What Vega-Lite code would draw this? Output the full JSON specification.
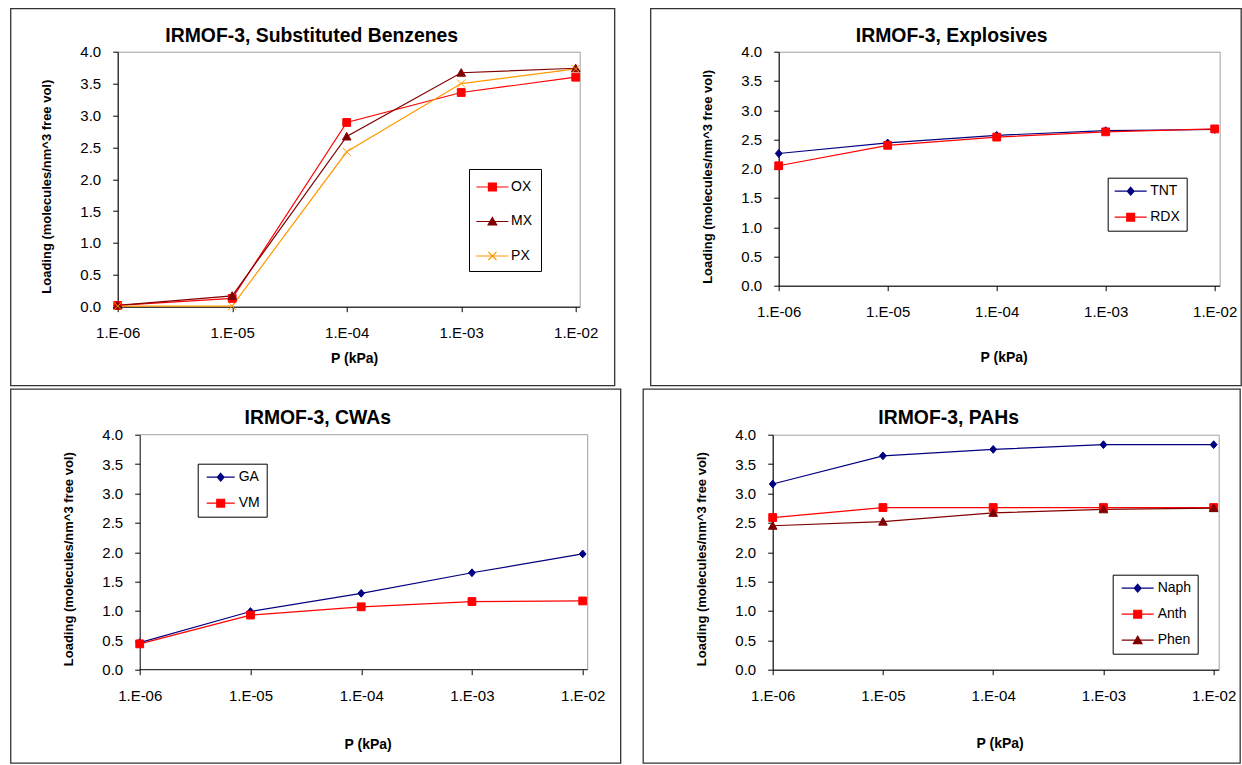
{
  "$schema": "https://vega.github.io/schema/vega-lite/v6.json",
  "padding": {"left": 8.7, "top": 6.7, "right": 0, "bottom": 0},
  "background": "white",
  "datasets": {
    "sb": [
      {"S": "OX", "P": 0.000001, "L": 0.02}, {"S": "OX", "P": 0.00001, "L": 0.13}, {"S": "OX", "P": 0.0001, "L": 2.89}, {"S": "OX", "P": 0.001, "L": 3.36}, {"S": "OX", "P": 0.01, "L": 3.60},
      {"S": "MX", "P": 0.000001, "L": 0.02}, {"S": "MX", "P": 0.00001, "L": 0.17}, {"S": "MX", "P": 0.0001, "L": 2.67}, {"S": "MX", "P": 0.001, "L": 3.67}, {"S": "MX", "P": 0.01, "L": 3.74},
      {"S": "PX", "P": 0.000001, "L": 0.01}, {"S": "PX", "P": 0.00001, "L": 0.01}, {"S": "PX", "P": 0.0001, "L": 2.43}, {"S": "PX", "P": 0.001, "L": 3.50}, {"S": "PX", "P": 0.01, "L": 3.73}
    ],
    "ex": [
      {"S": "TNT", "P": 0.000001, "L": 2.26}, {"S": "TNT", "P": 0.00001, "L": 2.44}, {"S": "TNT", "P": 0.0001, "L": 2.57}, {"S": "TNT", "P": 0.001, "L": 2.65}, {"S": "TNT", "P": 0.01, "L": 2.67},
      {"S": "RDX", "P": 0.000001, "L": 2.05}, {"S": "RDX", "P": 0.00001, "L": 2.40}, {"S": "RDX", "P": 0.0001, "L": 2.54}, {"S": "RDX", "P": 0.001, "L": 2.63}, {"S": "RDX", "P": 0.01, "L": 2.68}
    ],
    "cwa": [
      {"S": "GA", "P": 0.000001, "L": 0.46}, {"S": "GA", "P": 0.00001, "L": 0.99}, {"S": "GA", "P": 0.0001, "L": 1.30}, {"S": "GA", "P": 0.001, "L": 1.65}, {"S": "GA", "P": 0.01, "L": 1.97},
      {"S": "VM", "P": 0.000001, "L": 0.44}, {"S": "VM", "P": 0.00001, "L": 0.93}, {"S": "VM", "P": 0.0001, "L": 1.07}, {"S": "VM", "P": 0.001, "L": 1.16}, {"S": "VM", "P": 0.01, "L": 1.17}
    ],
    "pah": [
      {"S": "Naph", "P": 0.000001, "L": 3.16}, {"S": "Naph", "P": 0.00001, "L": 3.64}, {"S": "Naph", "P": 0.0001, "L": 3.75}, {"S": "Naph", "P": 0.001, "L": 3.83}, {"S": "Naph", "P": 0.01, "L": 3.83},
      {"S": "Anth", "P": 0.000001, "L": 2.59}, {"S": "Anth", "P": 0.00001, "L": 2.76}, {"S": "Anth", "P": 0.0001, "L": 2.76}, {"S": "Anth", "P": 0.001, "L": 2.76}, {"S": "Anth", "P": 0.01, "L": 2.76},
      {"S": "Phen", "P": 0.000001, "L": 2.45}, {"S": "Phen", "P": 0.00001, "L": 2.52}, {"S": "Phen", "P": 0.0001, "L": 2.67}, {"S": "Phen", "P": 0.001, "L": 2.73}, {"S": "Phen", "P": 0.01, "L": 2.75}
    ]
  },
  "spacing": 0,
  "resolve": {"scale": {"color": "independent", "fill": "independent", "shape": "independent"}},
  "vconcat": [
    {
      "spacing": 32,
      "resolve": {"scale": {"color": "independent", "fill": "independent", "shape": "independent"}},
      "hconcat": [
        {
          "width": 462, "height": 255,
          "title": {"text": "IRMOF-3, Substituted Benzenes", "frame": "group", "anchor": "middle", "dx": -37, "offset": -38},
          "resolve": {"scale": {"color": "independent", "fill": "independent", "shape": "independent"}},
          "layer": [
            {
              "data": {"values": [{}]},
              "mark": {"type": "rect", "filled": false, "color": "#333333", "strokeWidth": 1.3},
              "encoding": {
                "x": {"datum": 1.163e-7, "type": "quantitative", "scale": {"type": "log", "domain": [0.000001, 0.010837], "nice": false},
                      "axis": {"values": [0.000001, 0.00001, 0.0001, 0.001, 0.01], "labelExpr": "'1.E-0'+round(-log(datum.value)/LN10)", "title": "P (kPa)", "titlePadding": 11, "titleX": 236.5}},
                "x2": {"datum": 0.021904},
                "y": {"datum": 4.6745, "type": "quantitative", "scale": {"domain": [0, 4], "nice": false, "zero": false},
                      "axis": {"values": [0, 0.5, 1, 1.5, 2, 2.5, 3, 3.5, 4], "format": ".1f", "tickCount": 10, "labelOverlap": false, "title": "Loading (molecules/nm^3 free vol)", "titlePadding": 26, "titleY": 134.5}},
                "y2": {"datum": -1.23922}
              }
            },
            {
              "data": {"name": "sb"},
              "mark": {"type": "line", "strokeWidth": 1.2},
              "encoding": {
                "x": {"field": "P", "type": "quantitative", "scale": {"type": "log", "domain": [0.000001, 0.010837], "nice": false},
                      "axis": {"values": [0.000001, 0.00001, 0.0001, 0.001, 0.01], "labelExpr": "'1.E-0'+round(-log(datum.value)/LN10)", "title": "P (kPa)", "titlePadding": 11, "titleX": 236.5}},
                "y": {"field": "L", "type": "quantitative", "scale": {"domain": [0, 4], "nice": false, "zero": false},
                      "axis": {"values": [0, 0.5, 1, 1.5, 2, 2.5, 3, 3.5, 4], "format": ".1f", "tickCount": 10, "labelOverlap": false, "title": "Loading (molecules/nm^3 free vol)", "titlePadding": 26, "titleY": 134.5}},
                "color": {"field": "S", "type": "nominal", "scale": {"domain": ["OX", "MX", "PX"], "range": ["#FF0000", "#800000", "#FF9900"]}, "legend": null}
              }
            },
            {
              "data": {"name": "sb"},
              "mark": {"type": "point", "filled": false, "strokeWidth": 1, "size": 100, "opacity": 1},
              "encoding": {
                "x": {"field": "P", "type": "quantitative", "title": "P (kPa)"},
                "y": {"field": "L", "type": "quantitative", "title": "Loading (molecules/nm^3 free vol)"},
                "color": {"field": "S", "type": "nominal", "scale": {"domain": ["OX", "MX", "PX"], "range": ["#FF0000", "#800000", "#FF9900"]}, "legend": null},
                "fill": {"field": "S", "type": "nominal", "scale": {"domain": ["OX", "MX", "PX"], "range": ["#FF0000", "#800000", "#FF9900"]}, "legend": null},
                "shape": {"field": "S", "type": "nominal", "scale": {"domain": ["OX", "MX", "PX"], "range": ["M-0.78,-0.78H0.78V0.78H-0.78Z", "M0,-0.82L0.86,0.7H-0.86Z", "M-0.8,-0.8L0.8,0.8M0.8,-0.8L-0.8,0.8"]}, "legend": null}
              }
            },
            {
              "data": {"name": "sb"},
              "transform": [{"filter": "false"}],
              "mark": {"type": "point", "filled": false, "strokeWidth": 1.2, "opacity": 1},
              "encoding": {
                "x": {"field": "P", "type": "quantitative", "title": "P (kPa)"},
                "y": {"field": "L", "type": "quantitative", "title": "Loading (molecules/nm^3 free vol)"},
                "color": {"field": "S", "type": "nominal", "scale": {"domain": ["OX", "MX", "PX"], "range": ["#FF0000", "#800000", "#FF9900"]},
                  "legend": {"orient": "none", "legendX": 351.3, "legendY": 117.3, "title": null, "padding": 8, "rowPadding": 17.5, "symbolSize": 324, "symbolOffset": 5.4, "labelOffset": 8.7, "symbolStrokeWidth": 1.2}},
                "fill": {"field": "S", "type": "nominal", "scale": {"domain": ["OX", "MX", "PX"], "range": ["#FF0000", "#800000", "#FF9900"]},
                  "legend": {"orient": "none", "legendX": 351.3, "legendY": 117.3, "title": null, "padding": 8, "rowPadding": 17.5, "symbolSize": 324, "symbolOffset": 5.4, "labelOffset": 8.7, "symbolStrokeWidth": 1.2}},
                "shape": {"field": "S", "type": "nominal", "scale": {"domain": ["OX", "MX", "PX"], "range": ["M-1.778,0H1.778M-0.44,-0.44H0.44V0.44H-0.44Z", "M-1.778,0H1.778M0,-0.45L0.48,0.38H-0.48Z", "M-1.778,0H1.778M-0.45,-0.45L0.45,0.45M0.45,-0.45L-0.45,0.45"]},
                  "legend": {"orient": "none", "legendX": 351.3, "legendY": 117.3, "title": null, "padding": 8, "rowPadding": 17.5, "symbolSize": 324, "symbolOffset": 5.4, "labelOffset": 8.7, "symbolStrokeWidth": 1.2}}
              }
            }
          ]
        },
        {
          "width": 441, "height": 234,
          "title": {"text": "IRMOF-3, Explosives", "frame": "group", "anchor": "middle", "dx": -47.5, "offset": -38},
          "resolve": {"scale": {"color": "independent", "fill": "independent", "shape": "independent"}},
          "layer": [
            {
              "data": {"values": [{}]},
              "mark": {"type": "rect", "filled": false, "color": "#333333", "strokeWidth": 1.3},
              "encoding": {
                "x": {"datum": 6.6945e-8, "type": "quantitative", "scale": {"type": "log", "domain": [0.000001, 0.011112], "nice": false},
                      "axis": {"values": [0.000001, 0.00001, 0.0001, 0.001, 0.01], "labelExpr": "'1.E-0'+round(-log(datum.value)/LN10)", "title": "P (kPa)", "titlePadding": 31, "titleX": 225}},
                "x2": {"datum": 0.017502},
                "y": {"datum": 4.73504, "type": "quantitative", "scale": {"domain": [0, 4], "nice": false, "zero": false},
                      "axis": {"values": [0, 0.5, 1, 1.5, 2, 2.5, 3, 3.5, 4], "format": ".1f", "tickCount": 10, "labelOverlap": false, "title": "Loading (molecules/nm^3 free vol)", "titlePadding": 26, "titleY": 124.7}},
                "y2": {"datum": -1.7094}
              }
            },
            {
              "data": {"name": "ex"},
              "mark": {"type": "line", "strokeWidth": 1.2},
              "encoding": {
                "x": {"field": "P", "type": "quantitative", "scale": {"type": "log", "domain": [0.000001, 0.011112], "nice": false},
                      "axis": {"values": [0.000001, 0.00001, 0.0001, 0.001, 0.01], "labelExpr": "'1.E-0'+round(-log(datum.value)/LN10)", "title": "P (kPa)", "titlePadding": 31, "titleX": 225}},
                "y": {"field": "L", "type": "quantitative", "scale": {"domain": [0, 4], "nice": false, "zero": false},
                      "axis": {"values": [0, 0.5, 1, 1.5, 2, 2.5, 3, 3.5, 4], "format": ".1f", "tickCount": 10, "labelOverlap": false, "title": "Loading (molecules/nm^3 free vol)", "titlePadding": 26, "titleY": 124.7}},
                "color": {"field": "S", "type": "nominal", "scale": {"domain": ["TNT", "RDX"], "range": ["#000080", "#FF0000"]}, "legend": null}
              }
            },
            {
              "data": {"name": "ex"},
              "mark": {"type": "point", "filled": false, "strokeWidth": 1, "size": 100, "opacity": 1},
              "encoding": {
                "x": {"field": "P", "type": "quantitative", "title": "P (kPa)"},
                "y": {"field": "L", "type": "quantitative", "title": "Loading (molecules/nm^3 free vol)"},
                "color": {"field": "S", "type": "nominal", "scale": {"domain": ["TNT", "RDX"], "range": ["#000080", "#FF0000"]}, "legend": null},
                "fill": {"field": "S", "type": "nominal", "scale": {"domain": ["TNT", "RDX"], "range": ["#000080", "#FF0000"]}, "legend": null},
                "shape": {"field": "S", "type": "nominal", "scale": {"domain": ["TNT", "RDX"], "range": ["M0,-0.78L0.68,0L0,0.78L-0.68,0Z", "M-0.78,-0.78H0.78V0.78H-0.78Z"]}, "legend": null}
              }
            },
            {
              "data": {"name": "ex"},
              "transform": [{"filter": "false"}],
              "mark": {"type": "point", "filled": false, "strokeWidth": 1.2, "opacity": 1},
              "encoding": {
                "x": {"field": "P", "type": "quantitative", "title": "P (kPa)"},
                "y": {"field": "L", "type": "quantitative", "title": "Loading (molecules/nm^3 free vol)"},
                "color": {"field": "S", "type": "nominal", "scale": {"domain": ["TNT", "RDX"], "range": ["#000080", "#FF0000"]},
                  "legend": {"orient": "none", "legendX": 329, "legendY": 126, "title": null, "padding": 6.5, "rowPadding": 12, "symbolSize": 64, "symbolOffset": 9.5, "labelOffset": 12.5, "symbolStrokeWidth": 1.2}},
                "fill": {"field": "S", "type": "nominal", "scale": {"domain": ["TNT", "RDX"], "range": ["#000080", "#FF0000"]},
                  "legend": {"orient": "none", "legendX": 329, "legendY": 126, "title": null, "padding": 6.5, "rowPadding": 12, "symbolSize": 64, "symbolOffset": 9.5, "labelOffset": 12.5, "symbolStrokeWidth": 1.2}},
                "shape": {"field": "S", "type": "nominal", "scale": {"domain": ["TNT", "RDX"], "range": ["M-4,0H4M0,-0.98L0.85,0L0,0.98L-0.85,0Z", "M-4,0H4M-0.98,-0.98H0.98V0.98H-0.98Z"]},
                  "legend": {"orient": "none", "legendX": 329, "legendY": 126, "title": null, "padding": 6.5, "rowPadding": 12, "symbolSize": 64, "symbolOffset": 9.5, "labelOffset": 12.5, "symbolStrokeWidth": 1.2}}
              }
            }
          ]
        }
      ]
    },
    {
      "spacing": 20,
      "resolve": {"scale": {"color": "independent", "fill": "independent", "shape": "independent"}},
      "hconcat": [
        {
          "width": 470, "height": 235,
          "view": {"stroke": null},
          "title": {"text": "IRMOF-3, CWAs", "frame": "group", "anchor": "middle", "dx": -35, "offset": -39.4},
          "resolve": {"scale": {"color": "independent", "fill": "independent", "shape": "independent"}},
          "layer": [
            {
              "data": {"values": [{}]},
              "mark": {"type": "rect", "filled": false, "color": "#333333", "strokeWidth": 1.3},
              "encoding": {
                "x": {"datum": 6.8428e-8, "type": "quantitative", "scale": {"type": "log", "domain": [0.00000063265, 0.011096], "nice": false},
                      "axis": {"values": [0.000001, 0.00001, 0.0001, 0.001, 0.01], "labelExpr": "'1.E-0'+round(-log(datum.value)/LN10)", "title": "P (kPa)", "titlePadding": 34, "titleX": 250, "domain": false}},
                "x2": {"datum": 0.022033},
                "y": {"datum": 4.77447, "type": "quantitative", "scale": {"domain": [0, 4], "nice": false, "zero": false},
                      "axis": {"values": [0, 0.5, 1, 1.5, 2, 2.5, 3, 3.5, 4], "format": ".1f", "tickCount": 10, "labelOverlap": false, "title": "Loading (molecules/nm^3 free vol)", "titlePadding": 26, "titleY": 124, "offset": -22}},
                "y2": {"datum": -1.59149}
              }
            },
            {
              "data": {"values": [{}]},
              "mark": {"type": "rule", "color": "#A0A0A0", "strokeWidth": 1},
              "encoding": {
                "x": {"datum": 0.000001, "type": "quantitative", "scale": {"type": "log", "domain": [0.00000063265, 0.011096], "nice": false}},
                "x2": {"datum": 0.011096},
                "y": {"datum": 4, "type": "quantitative", "scale": {"domain": [0, 4], "nice": false, "zero": false}}
              }
            },
            {
              "data": {"values": [{}]},
              "mark": {"type": "rule", "color": "#A0A0A0", "strokeWidth": 1},
              "encoding": {
                "x": {"datum": 0.011096, "type": "quantitative", "scale": {"type": "log", "domain": [0.00000063265, 0.011096], "nice": false}},
                "y": {"datum": 0, "type": "quantitative", "scale": {"domain": [0, 4], "nice": false, "zero": false}},
                "y2": {"datum": 4}
              }
            },
            {
              "data": {"values": [{}]},
              "mark": {"type": "rule", "color": "#000000", "strokeWidth": 1},
              "encoding": {
                "x": {"datum": 0.000001, "type": "quantitative", "scale": {"type": "log", "domain": [0.00000063265, 0.011096], "nice": false}},
                "x2": {"datum": 0.011096},
                "y": {"datum": 0, "type": "quantitative", "scale": {"domain": [0, 4], "nice": false, "zero": false}}
              }
            },
            {
              "data": {"name": "cwa"},
              "mark": {"type": "line", "strokeWidth": 1.2},
              "encoding": {
                "x": {"field": "P", "type": "quantitative", "scale": {"type": "log", "domain": [0.00000063265, 0.011096], "nice": false},
                      "axis": {"values": [0.000001, 0.00001, 0.0001, 0.001, 0.01], "labelExpr": "'1.E-0'+round(-log(datum.value)/LN10)", "title": "P (kPa)", "titlePadding": 34, "titleX": 250, "domain": false}},
                "y": {"field": "L", "type": "quantitative", "scale": {"domain": [0, 4], "nice": false, "zero": false},
                      "axis": {"values": [0, 0.5, 1, 1.5, 2, 2.5, 3, 3.5, 4], "format": ".1f", "tickCount": 10, "labelOverlap": false, "title": "Loading (molecules/nm^3 free vol)", "titlePadding": 26, "titleY": 124, "offset": -22}},
                "color": {"field": "S", "type": "nominal", "scale": {"domain": ["GA", "VM"], "range": ["#000080", "#FF0000"]}, "legend": null}
              }
            },
            {
              "data": {"name": "cwa"},
              "mark": {"type": "point", "filled": false, "strokeWidth": 1, "size": 100, "opacity": 1},
              "encoding": {
                "x": {"field": "P", "type": "quantitative", "title": "P (kPa)"},
                "y": {"field": "L", "type": "quantitative", "title": "Loading (molecules/nm^3 free vol)"},
                "color": {"field": "S", "type": "nominal", "scale": {"domain": ["GA", "VM"], "range": ["#000080", "#FF0000"]}, "legend": null},
                "fill": {"field": "S", "type": "nominal", "scale": {"domain": ["GA", "VM"], "range": ["#000080", "#FF0000"]}, "legend": null},
                "shape": {"field": "S", "type": "nominal", "scale": {"domain": ["GA", "VM"], "range": ["M0,-0.78L0.68,0L0,0.78L-0.68,0Z", "M-0.78,-0.78H0.78V0.78H-0.78Z"]}, "legend": null}
              }
            },
            {
              "data": {"name": "cwa"},
              "transform": [{"filter": "false"}],
              "mark": {"type": "point", "filled": false, "strokeWidth": 1.2, "opacity": 1},
              "encoding": {
                "x": {"field": "P", "type": "quantitative", "title": "P (kPa)"},
                "y": {"field": "L", "type": "quantitative", "title": "Loading (molecules/nm^3 free vol)"},
                "color": {"field": "S", "type": "nominal", "scale": {"domain": ["GA", "VM"], "range": ["#000080", "#FF0000"]},
                  "legend": {"orient": "none", "legendX": 80, "legendY": 29, "title": null, "padding": 6.5, "rowPadding": 12, "symbolSize": 64, "symbolOffset": 9.5, "labelOffset": 11, "symbolStrokeWidth": 1.2}},
                "fill": {"field": "S", "type": "nominal", "scale": {"domain": ["GA", "VM"], "range": ["#000080", "#FF0000"]},
                  "legend": {"orient": "none", "legendX": 80, "legendY": 29, "title": null, "padding": 6.5, "rowPadding": 12, "symbolSize": 64, "symbolOffset": 9.5, "labelOffset": 11, "symbolStrokeWidth": 1.2}},
                "shape": {"field": "S", "type": "nominal", "scale": {"domain": ["GA", "VM"], "range": ["M-3.5,0H3.5M0,-0.98L0.85,0L0,0.98L-0.85,0Z", "M-3.5,0H3.5M-0.98,-0.98H0.98V0.98H-0.98Z"]},
                  "legend": {"orient": "none", "legendX": 80, "legendY": 29, "title": null, "padding": 6.5, "rowPadding": 12, "symbolSize": 64, "symbolOffset": 9.5, "labelOffset": 11, "symbolStrokeWidth": 1.2}}
              }
            }
          ]
        },
        {
          "width": 446, "height": 235,
          "title": {"text": "IRMOF-3, PAHs", "frame": "group", "anchor": "middle", "dx": -47, "offset": -39.4},
          "resolve": {"scale": {"color": "independent", "fill": "independent", "shape": "independent"}},
          "layer": [
            {
              "data": {"values": [{}]},
              "mark": {"type": "rect", "filled": false, "color": "#333333", "strokeWidth": 1.3},
              "encoding": {
                "x": {"datum": 6.69e-8, "type": "quantitative", "scale": {"type": "log", "domain": [0.000001, 0.011101], "nice": false},
                      "axis": {"values": [0.000001, 0.00001, 0.0001, 0.001, 0.01], "labelExpr": "'1.E-0'+round(-log(datum.value)/LN10)", "title": "P (kPa)", "titlePadding": 33, "titleX": 227}},
                "x2": {"datum": 0.017392},
                "y": {"datum": 4.77447, "type": "quantitative", "scale": {"domain": [0, 4], "nice": false, "zero": false},
                      "axis": {"values": [0, 0.5, 1, 1.5, 2, 2.5, 3, 3.5, 4], "format": ".1f", "tickCount": 10, "labelOverlap": false, "title": "Loading (molecules/nm^3 free vol)", "titlePadding": 26, "titleY": 124}},
                "y2": {"datum": -1.59149}
              }
            },
            {
              "data": {"name": "pah"},
              "mark": {"type": "line", "strokeWidth": 1.2},
              "encoding": {
                "x": {"field": "P", "type": "quantitative", "scale": {"type": "log", "domain": [0.000001, 0.011101], "nice": false},
                      "axis": {"values": [0.000001, 0.00001, 0.0001, 0.001, 0.01], "labelExpr": "'1.E-0'+round(-log(datum.value)/LN10)", "title": "P (kPa)", "titlePadding": 33, "titleX": 227}},
                "y": {"field": "L", "type": "quantitative", "scale": {"domain": [0, 4], "nice": false, "zero": false},
                      "axis": {"values": [0, 0.5, 1, 1.5, 2, 2.5, 3, 3.5, 4], "format": ".1f", "tickCount": 10, "labelOverlap": false, "title": "Loading (molecules/nm^3 free vol)", "titlePadding": 26, "titleY": 124}},
                "color": {"field": "S", "type": "nominal", "scale": {"domain": ["Naph", "Anth", "Phen"], "range": ["#000080", "#FF0000", "#800000"]}, "legend": null}
              }
            },
            {
              "data": {"name": "pah"},
              "mark": {"type": "point", "filled": false, "strokeWidth": 1, "size": 100, "opacity": 1},
              "encoding": {
                "x": {"field": "P", "type": "quantitative", "title": "P (kPa)"},
                "y": {"field": "L", "type": "quantitative", "title": "Loading (molecules/nm^3 free vol)"},
                "color": {"field": "S", "type": "nominal", "scale": {"domain": ["Naph", "Anth", "Phen"], "range": ["#000080", "#FF0000", "#800000"]}, "legend": null},
                "fill": {"field": "S", "type": "nominal", "scale": {"domain": ["Naph", "Anth", "Phen"], "range": ["#000080", "#FF0000", "#800000"]}, "legend": null},
                "shape": {"field": "S", "type": "nominal", "scale": {"domain": ["Naph", "Anth", "Phen"], "range": ["M0,-0.78L0.68,0L0,0.78L-0.68,0Z", "M-0.78,-0.78H0.78V0.78H-0.78Z", "M0,-0.82L0.86,0.7H-0.86Z"]}, "legend": null}
              }
            },
            {
              "data": {"name": "pah"},
              "transform": [{"filter": "false"}],
              "mark": {"type": "point", "filled": false, "strokeWidth": 1.2, "opacity": 1},
              "encoding": {
                "x": {"field": "P", "type": "quantitative", "title": "P (kPa)"},
                "y": {"field": "L", "type": "quantitative", "title": "Loading (molecules/nm^3 free vol)"},
                "color": {"field": "S", "type": "nominal", "scale": {"domain": ["Naph", "Anth", "Phen"], "range": ["#000080", "#FF0000", "#800000"]},
                  "legend": {"orient": "none", "legendX": 340, "legendY": 140, "title": null, "padding": 6.5, "rowPadding": 12, "symbolSize": 64, "symbolOffset": 11.5, "labelOffset": 13, "symbolStrokeWidth": 1.2}},
                "fill": {"field": "S", "type": "nominal", "scale": {"domain": ["Naph", "Anth", "Phen"], "range": ["#000080", "#FF0000", "#800000"]},
                  "legend": {"orient": "none", "legendX": 340, "legendY": 140, "title": null, "padding": 6.5, "rowPadding": 12, "symbolSize": 64, "symbolOffset": 11.5, "labelOffset": 13, "symbolStrokeWidth": 1.2}},
                "shape": {"field": "S", "type": "nominal", "scale": {"domain": ["Naph", "Anth", "Phen"], "range": ["M-4,0H4M0,-0.98L0.85,0L0,0.98L-0.85,0Z", "M-4,0H4M-0.98,-0.98H0.98V0.98H-0.98Z", "M-4,0H4M0,-1.02L1.08,0.86H-1.08Z"]},
                  "legend": {"orient": "none", "legendX": 340, "legendY": 140, "title": null, "padding": 6.5, "rowPadding": 12, "symbolSize": 64, "symbolOffset": 11.5, "labelOffset": 13, "symbolStrokeWidth": 1.2}}
              }
            }
          ]
        }
      ]
    }
  ],
  "config": {
    "font": "Liberation Sans",
    "view": {"stroke": "#A0A0A0", "strokeWidth": 1},
    "title": {"font": "Liberation Sans", "fontSize": 19.4, "fontWeight": "bold", "color": "#000000"},
    "axis": {"labelFont": "Liberation Sans", "labelFontSize": 15, "labelColor": "#000000", "titleFont": "Liberation Sans", "titleFontWeight": "bold", "titleColor": "#000000", "domainColor": "#000000", "tickColor": "#000000", "tickSize": 5, "grid": false, "labelOverlap": false},
    "axisX": {"labelPadding": 13.5, "labelFlush": false, "titleFontSize": 14},
    "axisY": {"labelPadding": 12, "titleFontSize": 13, "tickCount": 10},
    "legend": {"labelFont": "Liberation Sans", "labelFontSize": 14, "labelColor": "#000000", "strokeColor": "#000000", "fillColor": "#FFFFFF", "symbolStrokeWidth": 1.2}
  }
}
